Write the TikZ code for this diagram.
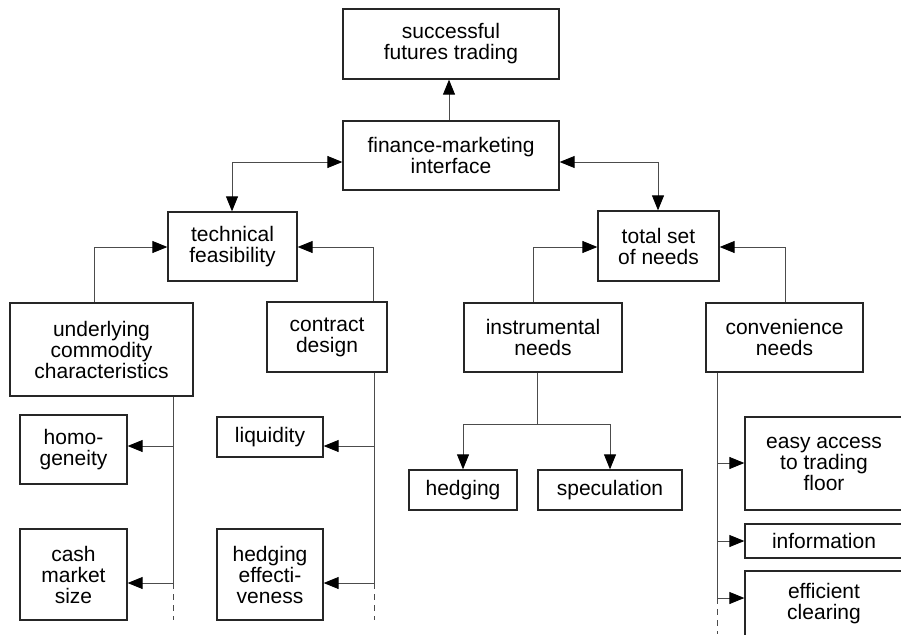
\documentclass[tikz,border=0pt]{standalone}
\usepackage{fontspec}
\setmainfont{Liberation Sans}
\usetikzlibrary{arrows.meta}
\newcommand\bx[6]{\node[box,minimum width={#4-#2},minimum height={#5-#3}] (#1) at ({(#2+#4)/2},{(#3+#5)/2}) {#6};}
\begin{document}
\begin{tikzpicture}[x=1pt,y=-1pt,
 box/.style={draw=black!85,line width=1.3pt,rectangle,inner sep=0pt,align=center,font=\fontsize{21}{21}\selectfont},
 conn/.style={draw=black!70,line width=0.9pt},
 tip/.tip={Triangle[length=15pt,width=12pt,color=black]},
 arr/.style={conn,-tip},
 dbl/.style={conn,tip-tip},
 dsh/.style={conn,dash pattern=on 6pt off 5pt}]
\useasboundingbox (0,0) rectangle (901,634);
\clip (0,0) rectangle (901,634);
% boxes
\bx{top}{343}{9}{559}{79}{successful\\futures trading}
\bx{fin}{343}{121}{559}{190}{finance-marketing\\interface}
\bx{tech}{168}{212}{297}{281}{technical\\feasibility}
\bx{total}{598}{211}{719}{281}{total set\\of needs}
\bx{under}{10}{303}{193}{396}{underlying\\commodity\\characteristics}
\bx{contract}{267}{302}{387}{372}{contract\\design}
\bx{instr}{464}{303}{622}{372}{instrumental\\needs}
\bx{conv}{706}{303}{863}{372}{convenience\\needs}
\bx{homo}{20}{415}{127}{484}{homo-\\geneity}
\bx{cash}{20}{529}{127}{620}{cash\\market\\size}
\bx{liq}{217}{417}{323}{457}{liquidity}
\bx{heff}{217}{529}{323}{620}{hedging\\effecti-\\veness}
\bx{hedging}{409}{470}{517}{510}{hedging}
\bx{spec}{538}{470}{682}{510}{speculation}
\bx{easy}{745}{417}{903}{510}{easy access\\to trading\\floor}
\bx{info}{745}{524}{903}{558}{information}
\bx{eff}{745}{571}{903}{637}{efficient\\clearing}
% connectors
\draw[arr] (fin.north -| 449,0) -- (top.south -| 449,0);
\draw[dbl] (tech.north -| 232,0) -- (232,162) -- (fin.west |- 0,162);
\draw[dbl] (total.north -| 658,0) -- (658,162) -- (fin.east |- 0,162);
\draw[arr] (under.north -| 94,0) -- (94,247) -- (tech.west |- 0,247);
\draw[arr] (contract.north -| 373,0) -- (373,247) -- (tech.east |- 0,247);
\draw[arr] (instr.north -| 533,0) -- (533,247) -- (total.west |- 0,247);
\draw[arr] (conv.north -| 785,0) -- (785,247) -- (total.east |- 0,247);
% underlying
\draw[conn] (under.south -| 173,0) -- (173,583);
\draw[dsh] (173,583) -- (173,620);
\draw[arr] (173,446) -- (homo.east |- 0,446);
\draw[arr] (173,583) -- (cash.east |- 0,583);
% contract
\draw[conn] (contract.south -| 374,0) -- (374,583);
\draw[dsh] (374,583) -- (374,620);
\draw[arr] (374,446) -- (liq.east |- 0,446);
\draw[arr] (374,583) -- (heff.east |- 0,583);
% instrumental
\draw[conn] (instr.south -| 537,0) -- (537,424);
\draw[arr] (537,424) -- (463,424) -- (hedging.north);
\draw[arr] (537,424) -- (610,424) -- (spec.north);
% convenience
\draw[conn] (conv.south -| 717,0) -- (717,598);
\draw[dsh] (717,598) -- (717,634);
\draw[arr] (717,463) -- (easy.west |- 0,463);
\draw[arr] (717,541) -- (info.west |- 0,541);
\draw[arr] (717,598) -- (eff.west |- 0,598);
\end{tikzpicture}
\end{document}
